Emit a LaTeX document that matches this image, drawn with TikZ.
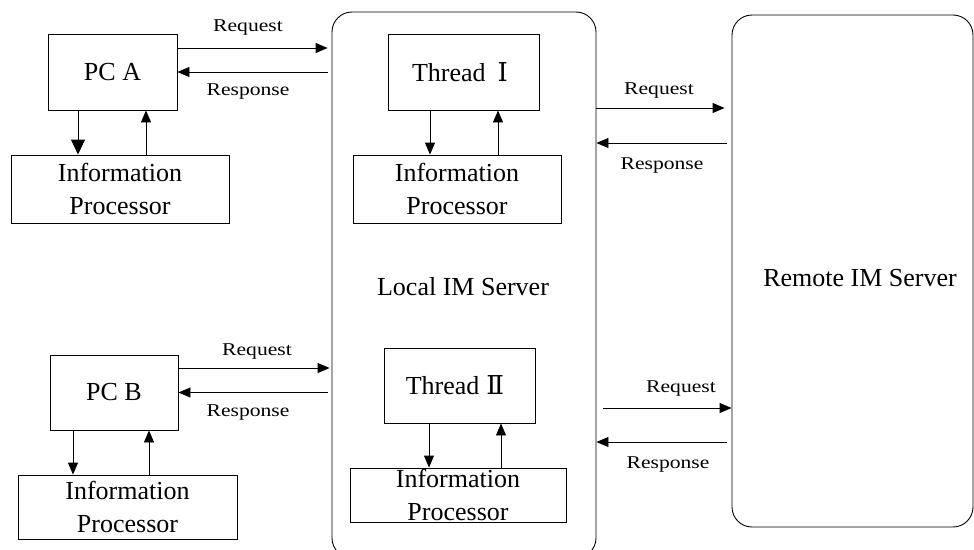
\documentclass[tikz,border=0pt]{standalone}
\usepackage{fontspec}
\setmainfont{Liberation Serif}
\newfontfamily\labelfont{Liberation Serif}[FakeStretch=1.2]
\newfontfamily\numfont{DejaVu Serif}
\usetikzlibrary{arrows.meta}
\begin{document}
\begin{tikzpicture}[x=1pt,y=-1pt,
  box/.style={draw, line width=0.9pt, inner sep=0pt, align=center,
              font=\fontsize{26}{32.5}\selectfont},
  server/.style={draw, line width=0.9pt, rounded corners=20pt, inner sep=0pt},
  big/.style={font=\fontsize{26}{32.5}\selectfont, inner sep=0pt},
  small/.style={font=\labelfont\fontsize{18}{20}\selectfont, inner sep=0pt},
  arr/.style={line width=0.9pt, -{Triangle[length=12pt,width=10pt]}},
]
\clip (0,0) rectangle (974,549);

% servers
\node[server, minimum width=264pt, minimum height=546pt] (local) at (464,285) {};
\node[server, minimum width=241pt, minimum height=512pt] (remote) at (852.5,271) {};
\node[big] (localtxt) at (463,287) {Local IM Server};
\node[big] (remotetxt) at (860,278) {Remote IM Server};

% clients
\node[box, minimum width=129pt, minimum height=76pt] (pca) at (112.5,72) {PC A};
\node[box, minimum width=218pt, minimum height=68pt] (infoa) at (120,189) {Information\\Processor};
\node[box, minimum width=128pt, minimum height=75pt] (pcb) at (114,392.5) {PC B};
\node[box, minimum width=219pt, minimum height=64pt] (infob) at (127.5,507) {Information\\Processor};

% server threads
\node[box, minimum width=151pt, minimum height=76pt] (th1) at (463.5,72)
  {\hspace*{-7pt}Thread\hspace{12pt}{\numfont Ⅰ}};
\node[box, minimum width=151pt, minimum height=75pt] (th2) at (459.5,385.5)
  {\hspace*{-9pt}Thread\hspace{7pt}{\numfont Ⅱ}};
\node[box, minimum width=208pt, minimum height=68pt] (info1) at (457,189) {Information\\Processor};
\node[box, minimum width=216pt, minimum height=54pt] (info2) at (458,495) {Information\\Processor};

% client <-> local server
\draw[arr, shorten >=4pt] ([yshift=24pt]pca.east) coordinate (qa) -- (qa -| local.west);
\draw[arr, shorten <=4pt] (pca.east -| local.west) -- (pca.east);
\draw[arr, shorten >=2pt] ([yshift=24.5pt]pcb.east) coordinate (qb) -- (qb -| local.west);
\draw[arr, shorten <=4pt] (pcb.east -| local.west) -- (pcb.east);
\node[small] (lqa) at (248,28) {Request};
\node[small] (lsa) at (248,92) {Response};
\node[small] (lqb) at (257,352) {Request};
\node[small] (lsb) at (248,413) {Response};

% local server <-> remote server
\coordinate (q1) at ([yshift=177pt]local.east);
\coordinate (s1) at ([yshift=142pt]local.east);
\coordinate (q2) at ([yshift=-123pt]local.east);
\coordinate (s2) at ([yshift=-157pt]local.east);
\draw[arr, shorten >=7pt] (q1) -- (q1 -| remote.west);
\draw[arr, shorten <=5pt] (s1 -| remote.west) -- (s1);
\draw[arr, shorten <=7pt] (q2) -- (q2 -| remote.west);
\draw[arr, shorten <=5pt] (s2 -| remote.west) -- (s2);
\node[small] (lq1) at (659,91) {Request};
\node[small] (ls1) at (662,166) {Response};
\node[small] (lq2) at (681,389) {Request};
\node[small] (ls2) at (668,465) {Response};

% processors
\draw[arr, -{Triangle[length=15pt,width=14pt]}] ([xshift=-34.5pt]pca.south) coordinate (da) -- (da |- infoa.north);
\draw[arr] ([xshift=33.5pt]pca.south) coordinate (ua) (ua |- infoa.north) -- (ua);
\draw[arr] ([xshift=-41pt]pcb.south) coordinate (db) -- (db |- infob.north);
\draw[arr] ([xshift=35pt]pcb.south) coordinate (ub) (ub |- infob.north) -- (ub);
\draw[arr] ([xshift=-33.5pt]th1.south) coordinate (d1) -- (d1 |- info1.north);
\draw[arr] ([xshift=34.5pt]th1.south) coordinate (u1) (u1 |- info1.north) -- (u1);
\draw[arr] ([xshift=-30.5pt]th2.south) coordinate (d2) -- (d2 |- info2.north);
\draw[arr] ([xshift=41.5pt]th2.south) coordinate (u2) (u2 |- info2.north) -- (u2);
\end{tikzpicture}
\end{document}
